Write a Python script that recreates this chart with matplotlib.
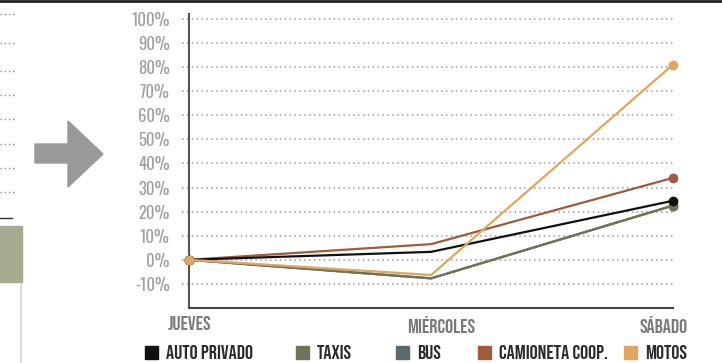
import matplotlib
matplotlib.use('Agg')
import matplotlib.pyplot as plt
from matplotlib.lines import Line2D
from matplotlib.patches import Rectangle, Polygon

plt.rcParams['font.family'] = ['Bebas Neue', 'Oswald', 'Roboto Condensed', 'DejaVu Sans']

# data
days = ['JUEVES', 'MIÉRCOLES', 'SÁBADO']
auto_privado = [0, 3.3, 24.5]
taxis = [0, -7.7, 22.5]
bus = [0, -7.7, 22.5]
camioneta = [0, 6.5, 34]
motos = [0, -6.3, 81]
series_names = ['AUTO PRIVADO', 'TAXIS', 'BUS', 'CAMIONETA COOP.', 'MOTOS']
series_values = [auto_privado, taxis, bus, camioneta, motos]
colors = ['#111111', '#6f735a', '#5b6a6e', '#a05a3c', '#e2a55c']
y_ticks = list(range(-10, 101, 10))

W, H = 722, 363
fig = plt.figure(figsize=(W / 100, H / 100), dpi=100)


def fx(px):
    return px / W


def fy(py):
    return 1 - py / H


ax = fig.add_axes([fx(182), fy(308), fx(673) - fx(182), fy(14) - fy(308)])
x = list(range(len(days)))

# spines first: moving a spine resets its ticks
for s in ['top', 'right']:
    ax.spines[s].set_visible(False)
ax.spines['left'].set_position(('data', 0))
ax.spines['left'].set_color('#555555')
ax.spines['left'].set_linewidth(1.5)
ax.spines['bottom'].set_bounds(0, 2.0)
ax.spines['bottom'].set_color('#444444')
ax.spines['bottom'].set_linewidth(1.5)

# bus drawn first (hidden under taxis), the others on top
order = [2, 1, 3, 0, 4]
for z, i in enumerate(order):
    ax.plot(x, series_values[i], color=colors[i], lw=1.6, marker='o', ms=6,
            markevery=[0, 2], clip_on=False, zorder=3 + z)

ax.set_xlim(-0.03, 2.0)
ax.set_ylim(-20, 102)
ax.set_yticks(y_ticks)
ax.set_yticklabels([f'{t}%' for t in y_ticks], color='#a0a0a0', fontsize=12,
                   family=['Oswald', 'Bebas Neue', 'DejaVu Sans'], fontweight='medium')
ax.tick_params(axis='y', length=0, pad=14)
ax.yaxis.grid(True, linestyle=(0, (1, 2.2)), color='#999999', lw=1.1)
ax.set_axisbelow(True)

ax.set_xticks([0, 1.04, 1.96])
ax.set_xticklabels(days, color='#7a7a7a', fontsize=14.5)
ax.tick_params(axis='x', length=0, pad=6)

# legend, placed by hand
sq_x = [145, 296, 396, 478, 624]
for name, c, px in zip(series_names, colors, sq_x):
    fig.add_artist(Rectangle((fx(px), fy(359)), fx(13), 13 / H, color=c,
                             transform=fig.transFigure))
    fig.text(fx(px + 21), fy(352), name, color='#2b2b2b', fontsize=14.5,
             va='center', ha='left')

# page decoration on the left
for py in [14, 43, 71, 95, 119, 144, 168, 192]:
    fig.add_artist(Line2D([0, fx(16)], [fy(py), fy(py)], color='#888888',
                          lw=1, linestyle=(0, (1, 2)), transform=fig.transFigure))
fig.add_artist(Line2D([0, fx(12)], [fy(218), fy(218)], color='#333333', lw=1,
                      transform=fig.transFigure))
fig.add_artist(Rectangle((0, fy(282)), fx(22), (282 - 226) / H, color='#a9ab91',
                         transform=fig.transFigure))
fig.add_artist(Line2D([fx(21), fx(21)], [fy(285), 0], color='#d6d8c8', lw=1.2,
                      transform=fig.transFigure))
arrow = [(35, 144), (68, 144), (68, 121), (103, 154), (68, 187), (68, 163), (35, 163)]
fig.add_artist(Polygon([(fx(a), fy(b)) for a, b in arrow], closed=True,
                       color='#999999', transform=fig.transFigure))
fig.add_artist(Line2D([0, 1], [fy(1), fy(1)], color='#222222', lw=2,
                      transform=fig.transFigure))

fig.savefig('out.png', dpi=100)
